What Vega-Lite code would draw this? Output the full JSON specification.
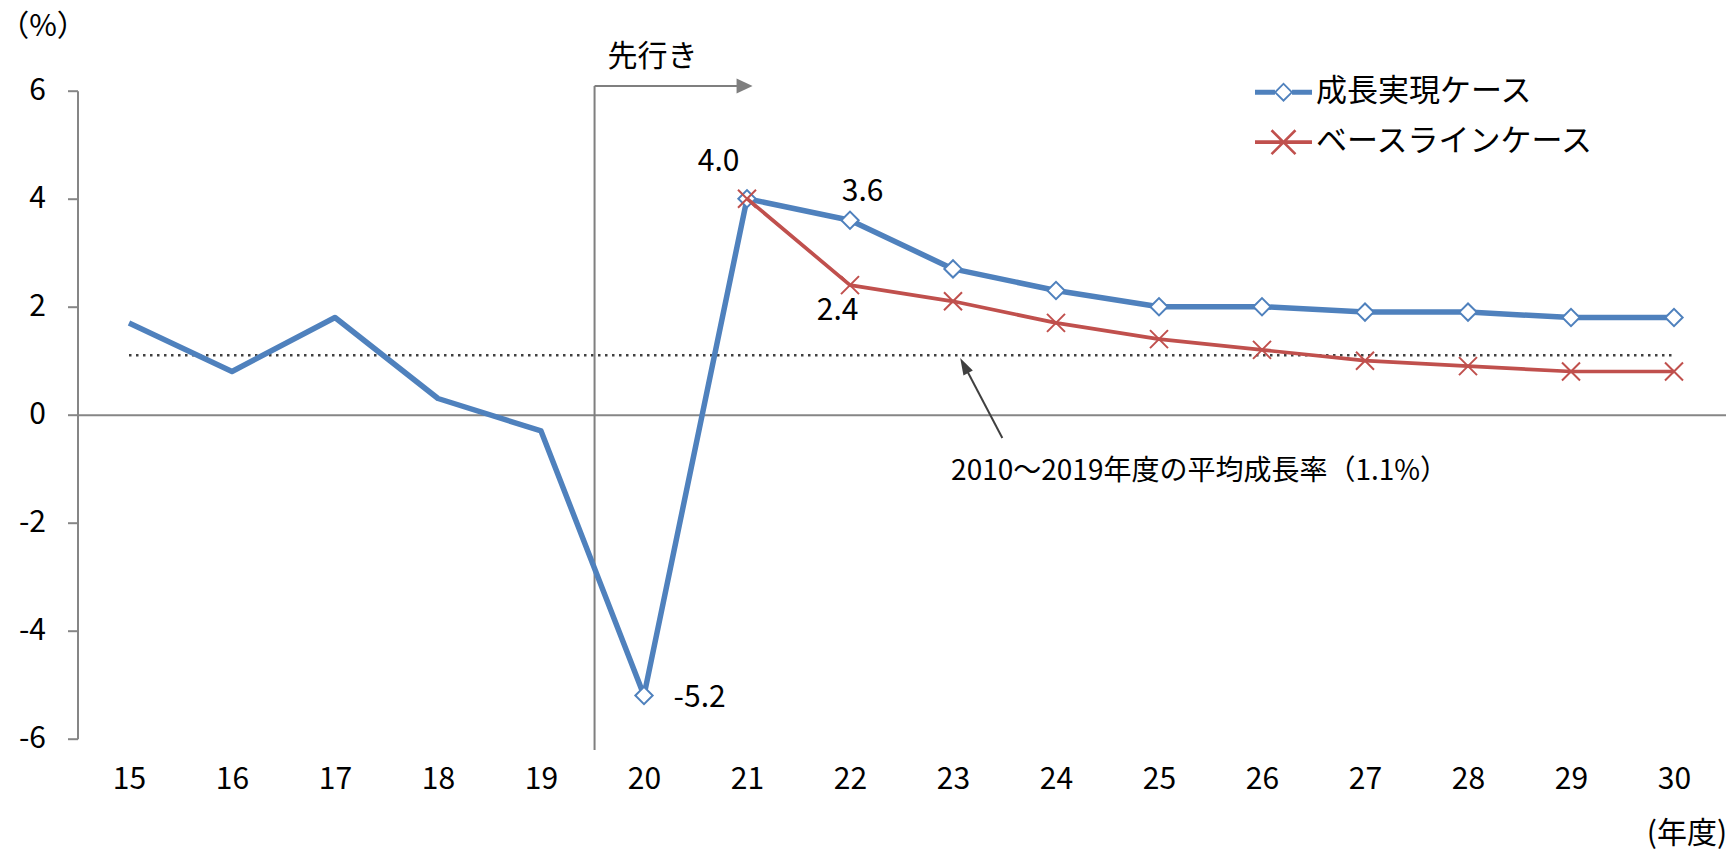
{
  "$schema": "https://vega.github.io/schema/vega-lite/v6.json",
  "width": 1648,
  "height": 648,
  "autosize": {"type": "none"},
  "padding": {"left": 77.5, "top": 90.7, "right": 8.5, "bottom": 116.3},
  "background": "white",
  "config": {
    "view": {"stroke": null},
    "font": "Noto Sans CJK JP",
    "axis": {"labelFont": "Noto Sans CJK JP", "titleFont": "Noto Sans CJK JP"},
    "text": {"font": "Noto Sans CJK JP"}
  },
  "data": {
    "values": [
      {"year": 15, "series": "成長実現ケース", "value": 1.7},
      {"year": 16, "series": "成長実現ケース", "value": 0.8},
      {"year": 17, "series": "成長実現ケース", "value": 1.8},
      {"year": 18, "series": "成長実現ケース", "value": 0.3},
      {"year": 19, "series": "成長実現ケース", "value": -0.3},
      {"year": 20, "series": "成長実現ケース", "value": -5.2, "label": "-5.2"},
      {"year": 21, "series": "成長実現ケース", "value": 4.0, "label": "4.0"},
      {"year": 22, "series": "成長実現ケース", "value": 3.6, "label": "3.6"},
      {"year": 23, "series": "成長実現ケース", "value": 2.7},
      {"year": 24, "series": "成長実現ケース", "value": 2.3},
      {"year": 25, "series": "成長実現ケース", "value": 2.0},
      {"year": 26, "series": "成長実現ケース", "value": 2.0},
      {"year": 27, "series": "成長実現ケース", "value": 1.9},
      {"year": 28, "series": "成長実現ケース", "value": 1.9},
      {"year": 29, "series": "成長実現ケース", "value": 1.8},
      {"year": 30, "series": "成長実現ケース", "value": 1.8},
      {"year": 21, "series": "ベースラインケース", "value": 4.0},
      {"year": 22, "series": "ベースラインケース", "value": 2.4, "label": "2.4"},
      {"year": 23, "series": "ベースラインケース", "value": 2.1},
      {"year": 24, "series": "ベースラインケース", "value": 1.7},
      {"year": 25, "series": "ベースラインケース", "value": 1.4},
      {"year": 26, "series": "ベースラインケース", "value": 1.2},
      {"year": 27, "series": "ベースラインケース", "value": 1.0},
      {"year": 28, "series": "ベースラインケース", "value": 0.9},
      {"year": 29, "series": "ベースラインケース", "value": 0.8},
      {"year": 30, "series": "ベースラインケース", "value": 0.8}
    ]
  },
  "layer": [
    {
      "mark": {"type": "point", "filled": true, "opacity": 0},
      "encoding": {
        "x": {
          "field": "year", "type": "quantitative",
          "scale": {"domain": [14.5, 30.5], "nice": false, "zero": false},
          "axis": {
            "values": [15, 16, 17, 18, 19, 20, 21, 22, 23, 24, 25, 26, 27, 28, 29, 30],
            "domain": false, "ticks": false, "grid": false,
            "labelFontSize": 30, "labelColor": "#000000", "labelPadding": 26,
            "labelExpr": "datum.value + ''",
            "labelFlush": false, "labelOverlap": false, "labelBound": false,
            "title": "(年度)", "titleFontSize": 30, "titleFontWeight": "normal", "titleColor": "#000000",
            "titleAngle": 0, "titleX": 1609, "titleY": 95, "titleAlign": "center", "titleBaseline": "middle"
          }
        },
        "y": {
          "field": "value", "type": "quantitative",
          "scale": {"domain": [-6, 6], "nice": false, "zero": false},
          "axis": {
            "values": [-6, -4, -2, 0, 2, 4, 6],
            "domain": true, "domainColor": "#868686", "domainWidth": 2,
            "ticks": true, "tickSize": 10, "tickColor": "#868686", "tickWidth": 2,
            "labelFontSize": 30, "labelColor": "#000000", "labelPadding": 22,
            "labelExpr": "datum.value + ''", "labelFlush": false, "labelBound": false,
            "grid": true, "gridColor": "#868686", "gridWidth": 2,
            "gridOpacity": {"condition": {"test": "datum.value === 0", "value": 1}, "value": 0},
            "title": "（%）", "titleFontSize": 30, "titleFontWeight": "normal", "titleColor": "#000000",
            "titleAngle": 0, "titleX": -35, "titleY": -64, "titleAlign": "center", "titleBaseline": "middle"
          }
        },
        "color": {
          "field": "series", "type": "nominal",
          "scale": {"domain": ["成長実現ケース", "ベースラインケース"], "range": ["#4F81BD", "#C0504D"]},
          "legend": {"orient": "none", "legendX": 1177.5, "legendY": -27, "title": null, "symbolSize": 3249, "symbolStrokeWidth": 0, "symbolOpacity": 1, "labelFont": "Noto Sans CJK JP", "labelFontSize": 31, "labelColor": "#000000", "labelOffset": 4, "labelLimit": 0, "rowPadding": 6, "padding": 0}
        },
        "shape": {
          "field": "series", "type": "nominal",
          "scale": {"domain": ["成長実現ケース", "ベースラインケース"], "range": ["M-1,-0.09H-0.3V0.09H-1ZM0.3,-0.09H1V0.09H0.3ZM0,-0.34L0.34,0L0,0.34L-0.34,0ZM0,-0.25L-0.25,0L0,0.25L0.25,0Z", "M-1,-0.065H1V0.065H-1ZM-0.388,-0.452L0.452,0.388L0.388,0.452L-0.452,-0.388ZM0.452,-0.388L-0.388,0.452L-0.452,0.388L0.388,-0.452Z"]},
          "legend": {"orient": "none", "legendX": 1177.5, "legendY": -27, "title": null, "symbolSize": 3249, "symbolStrokeWidth": 0, "symbolOpacity": 1, "labelFont": "Noto Sans CJK JP", "labelFontSize": 31, "labelColor": "#000000", "labelOffset": 4, "labelLimit": 0, "rowPadding": 6, "padding": 0}
        }
      }
    },
    {
      "data": {"values": [{"from": 15, "to": 30, "avg": 1.1}]},
      "mark": {"type": "rule", "stroke": "#404040", "strokeWidth": 2.5, "strokeDash": [2.5, 4.5]},
      "encoding": {
        "x": {"field": "from", "type": "quantitative", "scale": {"domain": [14.5, 30.5], "nice": false, "zero": false}},
        "x2": {"field": "to"},
        "y": {"field": "avg", "type": "quantitative", "scale": {"domain": [-6, 6], "nice": false, "zero": false}}
      }
    },
    {
      "data": {"values": [{}]},
      "mark": {"type": "rule", "stroke": "#7F7F7F", "strokeWidth": 2},
      "encoding": {
        "x": {"datum": 19.52, "type": "quantitative", "scale": {"domain": [14.5, 30.5], "nice": false, "zero": false}},
        "y": {"datum": 6.087, "type": "quantitative", "scale": {"domain": [-6, 6], "nice": false, "zero": false}},
        "y2": {"datum": -6.21}
      }
    },
    {
      "data": {"values": [{}]},
      "mark": {"type": "rule", "stroke": "#7F7F7F", "strokeWidth": 2},
      "encoding": {
        "x": {"datum": 19.52, "type": "quantitative", "scale": {"domain": [14.5, 30.5], "nice": false, "zero": false}},
        "x2": {"datum": 20.96},
        "y": {"datum": 6.087, "type": "quantitative", "scale": {"domain": [-6, 6], "nice": false, "zero": false}}
      }
    },
    {
      "data": {"values": [{}]},
      "mark": {"type": "point", "shape": "M1,0L-0.6,-0.75L-0.6,0.75Z", "size": 400, "filled": true, "fill": "#7F7F7F", "opacity": 1, "strokeWidth": 0},
      "encoding": {
        "x": {"datum": 20.957, "type": "quantitative", "scale": {"domain": [14.5, 30.5], "nice": false, "zero": false}},
        "y": {"datum": 6.087, "type": "quantitative", "scale": {"domain": [-6, 6], "nice": false, "zero": false}}
      }
    },
    {
      "data": {"values": [{}]},
      "mark": {"type": "text", "text": "先行き", "fontSize": 30, "color": "#000000", "align": "center", "baseline": "middle"},
      "encoding": {
        "x": {"datum": 20.083, "type": "quantitative", "scale": {"domain": [14.5, 30.5], "nice": false, "zero": false}},
        "y": {"datum": 6.617, "type": "quantitative", "scale": {"domain": [-6, 6], "nice": false, "zero": false}}
      }
    },
    {
      "transform": [{"filter": "datum.series == '成長実現ケース'"}],
      "mark": {"type": "line", "stroke": "#4F81BD", "strokeWidth": 5.5, "strokeJoin": "round"},
      "encoding": {
        "x": {"field": "year", "type": "quantitative", "scale": {"domain": [14.5, 30.5], "nice": false, "zero": false}},
        "y": {"field": "value", "type": "quantitative", "scale": {"domain": [-6, 6], "nice": false, "zero": false}}
      }
    },
    {
      "transform": [{"filter": "datum.series == '成長実現ケース' && datum.year >= 20"}],
      "mark": {"type": "point", "shape": "diamond", "size": 300, "filled": false, "fill": "#ffffff", "fillOpacity": 1, "stroke": "#4F81BD", "strokeWidth": 2, "opacity": 1},
      "encoding": {
        "x": {"field": "year", "type": "quantitative", "scale": {"domain": [14.5, 30.5], "nice": false, "zero": false}},
        "y": {"field": "value", "type": "quantitative", "scale": {"domain": [-6, 6], "nice": false, "zero": false}}
      }
    },
    {
      "transform": [{"filter": "datum.series == 'ベースラインケース'"}],
      "mark": {"type": "line", "stroke": "#C0504D", "strokeWidth": 3.7, "strokeJoin": "round"},
      "encoding": {
        "x": {"field": "year", "type": "quantitative", "scale": {"domain": [14.5, 30.5], "nice": false, "zero": false}},
        "y": {"field": "value", "type": "quantitative", "scale": {"domain": [-6, 6], "nice": false, "zero": false}}
      }
    },
    {
      "transform": [{"filter": "datum.series == 'ベースラインケース'"}],
      "mark": {"type": "point", "shape": "M-1,-1L1,1M1,-1L-1,1", "size": 324, "filled": false, "stroke": "#C0504D", "strokeWidth": 2, "opacity": 1},
      "encoding": {
        "x": {"field": "year", "type": "quantitative", "scale": {"domain": [14.5, 30.5], "nice": false, "zero": false}},
        "y": {"field": "value", "type": "quantitative", "scale": {"domain": [-6, 6], "nice": false, "zero": false}}
      }
    },
    {
      "transform": [{"filter": "datum.label == '4.0'"}],
      "mark": {"type": "text", "dx": -28.4, "dy": -36.7, "fontSize": 30, "color": "#000000", "align": "center", "baseline": "middle"},
      "encoding": {
        "x": {"field": "year", "type": "quantitative", "scale": {"domain": [14.5, 30.5], "nice": false, "zero": false}},
        "y": {"field": "value", "type": "quantitative", "scale": {"domain": [-6, 6], "nice": false, "zero": false}},
        "text": {"field": "label"}
      }
    },
    {
      "transform": [{"filter": "datum.label == '3.6'"}],
      "mark": {"type": "text", "dx": 12.6, "dy": -28.3, "fontSize": 30, "color": "#000000", "align": "center", "baseline": "middle"},
      "encoding": {
        "x": {"field": "year", "type": "quantitative", "scale": {"domain": [14.5, 30.5], "nice": false, "zero": false}},
        "y": {"field": "value", "type": "quantitative", "scale": {"domain": [-6, 6], "nice": false, "zero": false}},
        "text": {"field": "label"}
      }
    },
    {
      "transform": [{"filter": "datum.label == '2.4'"}],
      "mark": {"type": "text", "dx": -12.4, "dy": 25.9, "fontSize": 30, "color": "#000000", "align": "center", "baseline": "middle"},
      "encoding": {
        "x": {"field": "year", "type": "quantitative", "scale": {"domain": [14.5, 30.5], "nice": false, "zero": false}},
        "y": {"field": "value", "type": "quantitative", "scale": {"domain": [-6, 6], "nice": false, "zero": false}},
        "text": {"field": "label"}
      }
    },
    {
      "transform": [{"filter": "datum.label == '-5.2'"}],
      "mark": {"type": "text", "dx": 55.6, "dy": 2.5, "fontSize": 30, "color": "#000000", "align": "center", "baseline": "middle"},
      "encoding": {
        "x": {"field": "year", "type": "quantitative", "scale": {"domain": [14.5, 30.5], "nice": false, "zero": false}},
        "y": {"field": "value", "type": "quantitative", "scale": {"domain": [-6, 6], "nice": false, "zero": false}},
        "text": {"field": "label"}
      }
    },
    {
      "data": {"values": [{}]},
      "mark": {"type": "rule", "stroke": "#404040", "strokeWidth": 2},
      "encoding": {
        "x": {"datum": 23.479, "type": "quantitative", "scale": {"domain": [14.5, 30.5], "nice": false, "zero": false}},
        "x2": {"datum": 23.139},
        "y": {"datum": -0.431, "type": "quantitative", "scale": {"domain": [-6, 6], "nice": false, "zero": false}},
        "y2": {"datum": 0.804}
      }
    },
    {
      "data": {"values": [{}]},
      "mark": {"type": "point", "shape": "M0,-1L0.5,0.6L-0.5,0.6Z", "size": 450, "angle": 332, "filled": true, "fill": "#404040", "opacity": 1, "strokeWidth": 0},
      "encoding": {
        "x": {"datum": 23.118, "type": "quantitative", "scale": {"domain": [14.5, 30.5], "nice": false, "zero": false}},
        "y": {"datum": 0.876, "type": "quantitative", "scale": {"domain": [-6, 6], "nice": false, "zero": false}}
      }
    },
    {
      "data": {"values": [{}]},
      "mark": {"type": "text", "text": "2010～2019年度の平均成長率（1.1%）", "fontSize": 28, "color": "#000000", "align": "center", "baseline": "middle"},
      "encoding": {
        "x": {"datum": 25.394, "type": "quantitative", "scale": {"domain": [14.5, 30.5], "nice": false, "zero": false}},
        "y": {"datum": -1.061, "type": "quantitative", "scale": {"domain": [-6, 6], "nice": false, "zero": false}}
      }
    }
  ]
}
